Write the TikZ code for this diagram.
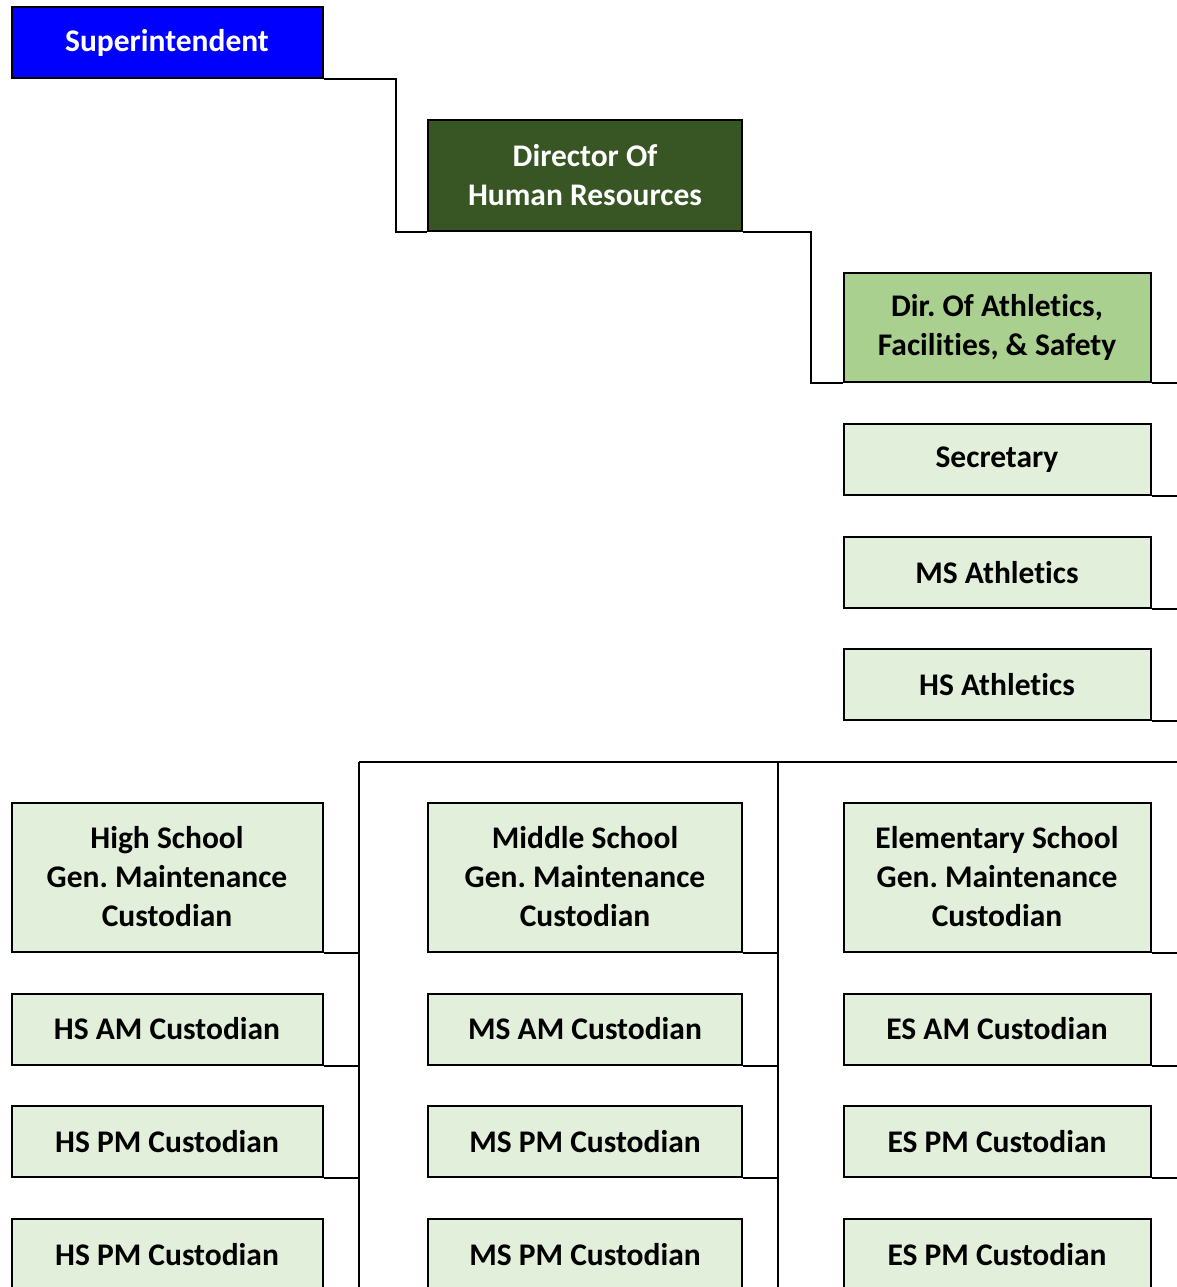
\documentclass[tikz,border=0pt]{standalone}
\usepackage{fontspec}
\setmainfont[Ligatures=NoCommon]{Carlito}
\usetikzlibrary{positioning}
\definecolor{supblue}{HTML}{0000FF}
\definecolor{hrgreen}{HTML}{375623}
\definecolor{dirgreen}{HTML}{A9D08E}
\definecolor{staffgreen}{HTML}{E2EFDA}
\frenchspacing
\tikzset{
  orgbox/.style={draw, line width=2pt, minimum width=311pt, align=center, inner sep=0pt, font=\fontsize{31.5}{39}\selectfont\bfseries},
  supnode/.style={orgbox, fill=supblue, text=white, minimum height=71pt},
  hrnode/.style={orgbox, fill=hrgreen, text=white, minimum height=110pt},
  dirnode/.style={orgbox, fill=dirgreen, minimum height=109pt},
  staffnode/.style={orgbox, fill=staffgreen, minimum height=71pt},
  schoolnode/.style={orgbox, fill=staffgreen, minimum height=149pt},
  link/.style={line width=2pt}
}
\begin{document}
\begin{tikzpicture}[x=1pt, y=-1pt]
  \useasboundingbox (0,0) rectangle (1177,1287);
  \clip (0,0) rectangle (1177,1287);
  \coordinate (edge) at (1200,0);
  \coordinate (floor) at (0,1300);
  \coordinate (busl) at (359,762);
  \coordinate (busm) at (778,762);

  \node[supnode] (sup) at (167,43) {Superintendent};
  \node[hrnode, minimum width=314pt] (hr) at (585,175.5) {Director Of\\Human Resources};
  \node[dirnode, minimum width=307pt] (dir) at (997,327) {Dir. Of Athletics,\\Facilities, \& Safety};
  \node[staffnode, minimum width=307pt] (sec) at (997,459.5) {Secretary};
  \node[staffnode, minimum width=307pt] (msath) at (997,572.5) {MS Athletics};
  \node[staffnode, minimum width=307pt] (hsath) at (997,684.5) {HS Athletics};

  \node[schoolnode] (hs) at (167,877) {High School\\Gen. Maintenance\\Custodian};
  \node[staffnode] (hsam) at (167,1029) {HS AM Custodian};
  \node[staffnode] (hspm) at (167,1141.5) {HS PM Custodian};
  \node[staffnode] (hspmb) at (167,1254.5) {HS PM Custodian};

  \node[schoolnode, minimum width=314pt] (ms) at (585,877) {Middle School\\Gen. Maintenance\\Custodian};
  \node[staffnode, minimum width=314pt] (msam) at (585,1029) {MS AM Custodian};
  \node[staffnode, minimum width=314pt] (mspm) at (585,1141.5) {MS PM Custodian};
  \node[staffnode, minimum width=314pt] (mspmb) at (585,1254.5) {MS PM Custodian};

  \node[schoolnode, minimum width=307pt] (es) at (997,877) {Elementary School\\Gen. Maintenance\\Custodian};
  \node[staffnode, minimum width=307pt] (esam) at (997,1029) {ES AM Custodian};
  \node[staffnode, minimum width=307pt] (espm) at (997,1141.5) {ES PM Custodian};
  \node[staffnode, minimum width=307pt] (espmb) at (997,1254.5) {ES PM Custodian};

  \draw[link] (sup.south east) -- ++(72,0) |- (hr.south west);
  \draw[link] (hr.south east) -- ++(68,0) |- (dir.south west);
  \draw[link] (dir.south east) -- (dir.south east -| edge);
  \draw[link] (sec.south east) -- (sec.south east -| edge);
  \draw[link] (msath.south east) -- (msath.south east -| edge);
  \draw[link] (hsath.south east) -- (hsath.south east -| edge);

  \draw[link] (busl) -- (busl -| edge);
  \draw[link] (busl) -- (busl |- floor);
  \draw[link] (busm) -- (busm |- floor);

  \draw[link] (hs.south east) -- (hs.south east -| busl);
  \draw[link] (hsam.south east) -- (hsam.south east -| busl);
  \draw[link] (hspm.south east) -- (hspm.south east -| busl);
  \draw[link] (ms.south east) -- (ms.south east -| busm);
  \draw[link] (msam.south east) -- (msam.south east -| busm);
  \draw[link] (mspm.south east) -- (mspm.south east -| busm);
  \draw[link] (es.south east) -- (es.south east -| edge);
  \draw[link] (esam.south east) -- (esam.south east -| edge);
  \draw[link] (espm.south east) -- (espm.south east -| edge);
\end{tikzpicture}
\end{document}
